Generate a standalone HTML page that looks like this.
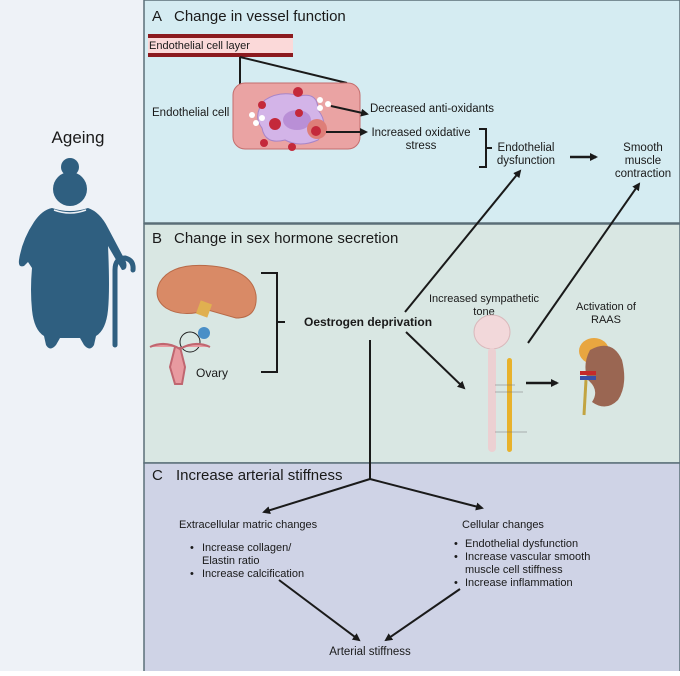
<!DOCTYPE html>
<html><head><meta charset="utf-8"><style>
html,body{margin:0;padding:0;}
body{width:680px;height:671px;overflow:hidden;font-family:"Liberation Sans",sans-serif;}
text{font-family:"Liberation Sans",sans-serif;fill:#1a1a1a;}
</style></head><body>
<svg width="680" height="671" viewBox="0 0 680 671" xmlns="http://www.w3.org/2000/svg">
<defs>
<marker id="ah" markerWidth="8" markerHeight="8" refX="6" refY="4" orient="auto" markerUnits="userSpaceOnUse"><path d="M0,0 L8,4 L0,8 Z" fill="#1a1a1a"/></marker>
</defs>
<rect x="0" y="0" width="680" height="671" fill="#eef2f7"/>
<rect x="144" y="0" width="536" height="223" fill="#d5ecf2" stroke="#5b6f78" stroke-width="1.5"/>
<rect x="144" y="224" width="536" height="239" fill="#d9e7e3" stroke="#5b6f78" stroke-width="1.5"/>
<rect x="144" y="463" width="536" height="210" fill="#cfd3e6" stroke="#5b6f78" stroke-width="1.5"/>

<!-- Ageing -->
<text x="78" y="143" font-size="17" text-anchor="middle">Ageing</text>
<g fill="#2f5f80">
<circle cx="70" cy="167" r="9"/>
<circle cx="70" cy="189" r="17"/>
<path d="M52,208 Q70,214 88,208 Q100,212 108,228 L126,262 Q128,270 122,270 L108,246 Q110,290 108,310 Q106,330 96,336 L94,345 Q90,352 84,345 L80,338 L60,338 L56,345 Q50,352 46,345 L44,336 Q34,330 32,310 Q30,290 32,268 L28,262 L24,266 Q18,268 19,260 Q22,240 34,222 Q42,210 52,208 Z"/>
<path d="M115,345 L115,270 Q115,258 125,258 Q134,260 133,270" fill="none" stroke="#2f5f80" stroke-width="5" stroke-linecap="round"/>
</g>
<path d="M54,210 Q70,216 86,210" stroke="#eef2f7" stroke-width="1.5" fill="none"/>

<!-- Panel A -->
<text x="152" y="21" font-size="15">A</text>
<text x="174" y="21" font-size="15">Change in vessel function</text>
<rect x="148" y="34" width="145" height="23" fill="#fbd9d9"/>
<rect x="148" y="34" width="145" height="4" fill="#8b1a1f"/>
<rect x="148" y="53" width="145" height="4" fill="#8b1a1f"/>
<text x="149" y="49" font-size="11">Endothelial cell layer</text>
<line x1="240" y1="57" x2="240" y2="109" stroke="#1a1a1a" stroke-width="2"/>
<line x1="240" y1="57" x2="347" y2="83" stroke="#1a1a1a" stroke-width="2"/>
<rect x="233" y="83" width="127" height="66" rx="12" fill="#eaa3a3" stroke="#c46d6d"/>
<path d="M265,100 Q280,90 300,96 Q318,92 318,110 Q330,125 318,140 Q300,148 285,140 Q265,145 262,128 Q252,115 265,100 Z" fill="#d3b4e8" stroke="#a785c8"/>
<ellipse cx="297" cy="120" rx="14" ry="10" fill="#b98fd6"/>
<circle cx="317" cy="129" r="10" fill="#de7e78"/>
<g fill="#c4293b">
<circle cx="298" cy="92" r="5"/><circle cx="262" cy="105" r="4"/><circle cx="299" cy="113" r="4"/><circle cx="275" cy="124" r="6"/><circle cx="316" cy="131" r="5"/><circle cx="264" cy="143" r="4"/><circle cx="292" cy="147" r="4"/>
</g>
<g fill="#fff"><circle cx="252" cy="115" r="3"/><circle cx="256" cy="123" r="3"/><circle cx="262" cy="118" r="3"/><circle cx="320" cy="100" r="3"/><circle cx="320" cy="108" r="3"/><circle cx="328" cy="104" r="3"/></g>
<text x="152" y="116" font-size="11.5">Endothelial cell</text>
<line x1="331" y1="106" x2="367" y2="114" stroke="#1a1a1a" stroke-width="2" marker-end="url(#ah)"/>
<line x1="326" y1="132" x2="366" y2="132" stroke="#1a1a1a" stroke-width="2" marker-end="url(#ah)"/>
<text x="370" y="112" font-size="11.5">Decreased anti-oxidants</text>
<text x="421" y="136" font-size="11.5" text-anchor="middle">Increased oxidative</text>
<text x="421" y="149" font-size="11.5" text-anchor="middle">stress</text>
<path d="M479,129 L486,129 L486,167 L479,167 M486,148 L492,148" fill="none" stroke="#1a1a1a" stroke-width="2"/>
<text x="526" y="151" font-size="11.5" text-anchor="middle">Endothelial</text>
<text x="526" y="164" font-size="11.5" text-anchor="middle">dysfunction</text>
<line x1="570" y1="157" x2="596" y2="157" stroke="#1a1a1a" stroke-width="2.5" marker-end="url(#ah)"/>
<text x="643" y="151" font-size="11.5" text-anchor="middle">Smooth</text>
<text x="643" y="164" font-size="11.5" text-anchor="middle">muscle</text>
<text x="643" y="177" font-size="11.5" text-anchor="middle">contraction</text>

<!-- Panel B -->
<text x="152" y="243" font-size="15">B</text>
<text x="174" y="243" font-size="15">Change in sex hormone secretion</text>
<path d="M160,282 Q172,262 212,266 Q252,270 256,295 Q258,318 236,318 L208,310 Q182,318 166,308 Q152,298 160,282 Z" fill="#d98a66" stroke="#b86a48"/>
<rect x="198" y="302" width="12" height="14" fill="#e0b050" transform="rotate(20 204 309)"/>
<ellipse cx="204" cy="333" rx="6" ry="6" fill="#4a8fc7"/>
<circle cx="190" cy="342" r="10" fill="none" stroke="#222" stroke-width="1"/>
<path d="M150,347 Q165,340 180,349 Q195,340 210,347 M175,347 L170,367 L175,384 L182,384 L185,367 L180,347" fill="#e89aa0" stroke="#c06670" stroke-width="2"/>
<text x="196" y="377" font-size="12">Ovary</text>
<path d="M261,273 L277,273 L277,372 L261,372 M277,322 L285,322" fill="none" stroke="#1a1a1a" stroke-width="2"/>
<text x="304" y="326" font-size="12" font-weight="bold">Oestrogen deprivation</text>
<line x1="405" y1="312" x2="520" y2="171" stroke="#1a1a1a" stroke-width="2" marker-end="url(#ah)"/>
<line x1="528" y1="343" x2="639" y2="184" stroke="#1a1a1a" stroke-width="2" marker-end="url(#ah)"/>
<line x1="406" y1="332" x2="464" y2="388" stroke="#1a1a1a" stroke-width="2" marker-end="url(#ah)"/>
<text x="484" y="302" font-size="11" text-anchor="middle">Increased sympathetic</text>
<text x="484" y="315" font-size="11" text-anchor="middle">tone</text>
<ellipse cx="492" cy="332" rx="18" ry="17" fill="#f2d8da" stroke="#d9b8bb"/>
<rect x="488" y="348" width="8" height="104" rx="4" fill="#ecd0d2"/>
<rect x="507" y="358" width="5" height="94" rx="2.5" fill="#e8b22c"/>
<line x1="495" y1="385" x2="515" y2="385" stroke="#777" stroke-width="0.6"/>
<line x1="495" y1="392" x2="523" y2="392" stroke="#777" stroke-width="0.6"/>
<line x1="495" y1="432" x2="527" y2="432" stroke="#777" stroke-width="0.6"/>
<line x1="526" y1="383" x2="557" y2="383" stroke="#1a1a1a" stroke-width="2.5" marker-end="url(#ah)"/>
<text x="606" y="310" font-size="11" text-anchor="middle">Activation of</text>
<text x="606" y="323" font-size="11" text-anchor="middle">RAAS</text>
<ellipse cx="594" cy="351" rx="15" ry="13" fill="#e8a640"/>
<path d="M590,350 Q612,338 622,360 Q628,385 618,400 Q606,412 592,402 Q600,390 588,380 Q582,365 590,350 Z" fill="#9a6652"/>
<rect x="580" y="371" width="16" height="4" fill="#c52a2a"/><rect x="580" y="376" width="16" height="4" fill="#3a4fa8"/>
<line x1="586" y1="380" x2="584" y2="415" stroke="#c2a441" stroke-width="3"/>

<!-- Panel C -->
<line x1="370" y1="340" x2="370" y2="479" stroke="#1a1a1a" stroke-width="2"/>
<text x="152" y="480" font-size="15">C</text>
<text x="176" y="480" font-size="15">Increase arterial stiffness</text>
<line x1="370" y1="479" x2="264" y2="512" stroke="#1a1a1a" stroke-width="2" marker-end="url(#ah)"/>
<line x1="370" y1="479" x2="482" y2="508" stroke="#1a1a1a" stroke-width="2" marker-end="url(#ah)"/>
<text x="179" y="528" font-size="11">Extracellular matric changes</text>
<g font-size="11">
<text x="190" y="551">•</text><text x="202" y="551">Increase collagen/</text>
<text x="202" y="564">Elastin ratio</text>
<text x="190" y="577">•</text><text x="202" y="577">Increase calcification</text>
<text x="462" y="528">Cellular changes</text>
<text x="454" y="547">•</text><text x="465" y="547">Endothelial dysfunction</text>
<text x="454" y="560">•</text><text x="465" y="560">Increase vascular smooth</text>
<text x="465" y="573">muscle cell stiffness</text>
<text x="454" y="586">•</text><text x="465" y="586">Increase inflammation</text>
</g>
<line x1="279" y1="580" x2="359" y2="640" stroke="#1a1a1a" stroke-width="2" marker-end="url(#ah)"/>
<line x1="460" y1="589" x2="386" y2="640" stroke="#1a1a1a" stroke-width="2" marker-end="url(#ah)"/>
<text x="370" y="655" font-size="11.5" text-anchor="middle">Arterial stiffness</text>
</svg>
</body></html>
